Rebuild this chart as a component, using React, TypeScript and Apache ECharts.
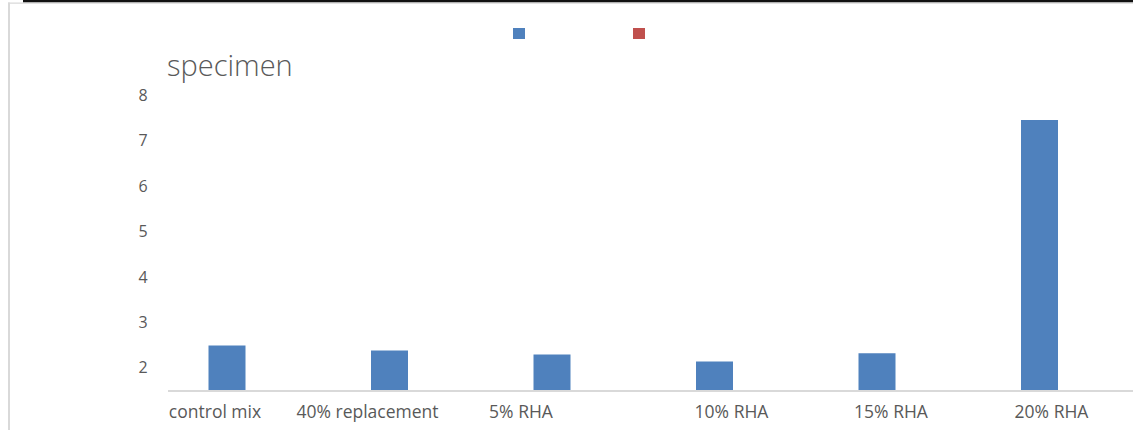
import React, { useEffect, useRef } from "react";
import * as echarts from "echarts";

const categories = ["control mix", "40% replacement", "5% RHA", "10% RHA", "15% RHA", "20% RHA"];
const seriesNames = ["Series1", "Series2"];
const series1Values = [2.48, 2.37, 2.28, 2.13, 2.31, 7.45];
const series2Values: (number | null)[] = [null, null, null, null, null, null];
const yTickValues = [2, 3, 4, 5, 6, 7, 8];
const titleText = "specimen";
// per-label horizontal nudges (px) to match the reference label placement
const labelShift = [-12, -22, -31, 17, 14, 12];

export default function App() {
  const ref = useRef<HTMLDivElement>(null);
  useEffect(() => {
    if (!ref.current) return;
    const chart = echarts.init(ref.current, undefined, { renderer: "svg" });
    const font = "'Open Sans', 'Noto Sans', sans-serif";
    chart.setOption({
      animation: false,
      backgroundColor: "#ffffff",
      textStyle: { fontFamily: font },
      title: {
        text: titleText,
        left: 162,
        top: 45,
        textStyle: { fontSize: 29, fontWeight: 300, color: "#595959", fontFamily: font },
      },
      legend: {
        data: seriesNames,
        left: 508,
        top: 23,
        itemWidth: 12,
        itemHeight: 11,
        itemGap: 108,
        icon: "rect",
        formatter: () => "",
        textStyle: { fontSize: 1 },
      },
      grid: { left: 145.75, right: 12.25, top: 95, bottom: 430 - 390, containLabel: false },
      xAxis: {
        type: "category",
        data: categories.map((c, i) => ({
          value: c,
          textStyle: {
            padding: labelShift[i] >= 0 ? [0, 0, 0, labelShift[i] * 2] : [0, -labelShift[i] * 2, 0, 0],
          },
        })),
        axisLine: { show: false },
        axisTick: { show: false },
        axisLabel: { color: "#595959", fontSize: 17.5, margin: 12, interval: 0, fontFamily: font },
      },
      yAxis: {
        type: "value",
        min: 1.5,
        max: 8,
        interval: 0.5,
        splitLine: { show: false },
        axisLine: { show: false },
        axisTick: { show: false },
        axisLabel: {
          color: "#595959",
          fontSize: 16,
          margin: -2,
          fontFamily: font,
          formatter: (v: number) => (yTickValues.includes(v) ? String(v) : ""),
        },
      },
      series: [
        {
          name: seriesNames[0],
          type: "bar",
          data: series1Values,
          barWidth: 37,
          barGap: "-100%",
          itemStyle: { color: "#4f81bd" },
        },
        {
          name: seriesNames[1],
          type: "bar",
          data: series2Values,
          barWidth: 37,
          itemStyle: { color: "#c0504d" },
        },
      ],
      graphic: [
        { type: "rect", shape: { x: 23, y: 0, width: 1110, height: 2.5 }, style: { fill: "#111111" } },
        { type: "rect", shape: { x: 8, y: 2.5, width: 1125, height: 1.2 }, style: { fill: "#d9d9d9" } },
        { type: "rect", shape: { x: 8, y: 2.5, width: 2, height: 428 }, style: { fill: "#d9d9d9" } },
        { type: "line", shape: { x1: 168, y1: 391, x2: 1133, y2: 391 }, style: { stroke: "#d9d9d9", lineWidth: 2 } },
      ],
    });
    return () => chart.dispose();
  }, []);
  return (
    <div
      ref={ref}
      style={{ position: "absolute", left: 0, top: 0, width: 1133, height: 430 }}
    />
  );
}
